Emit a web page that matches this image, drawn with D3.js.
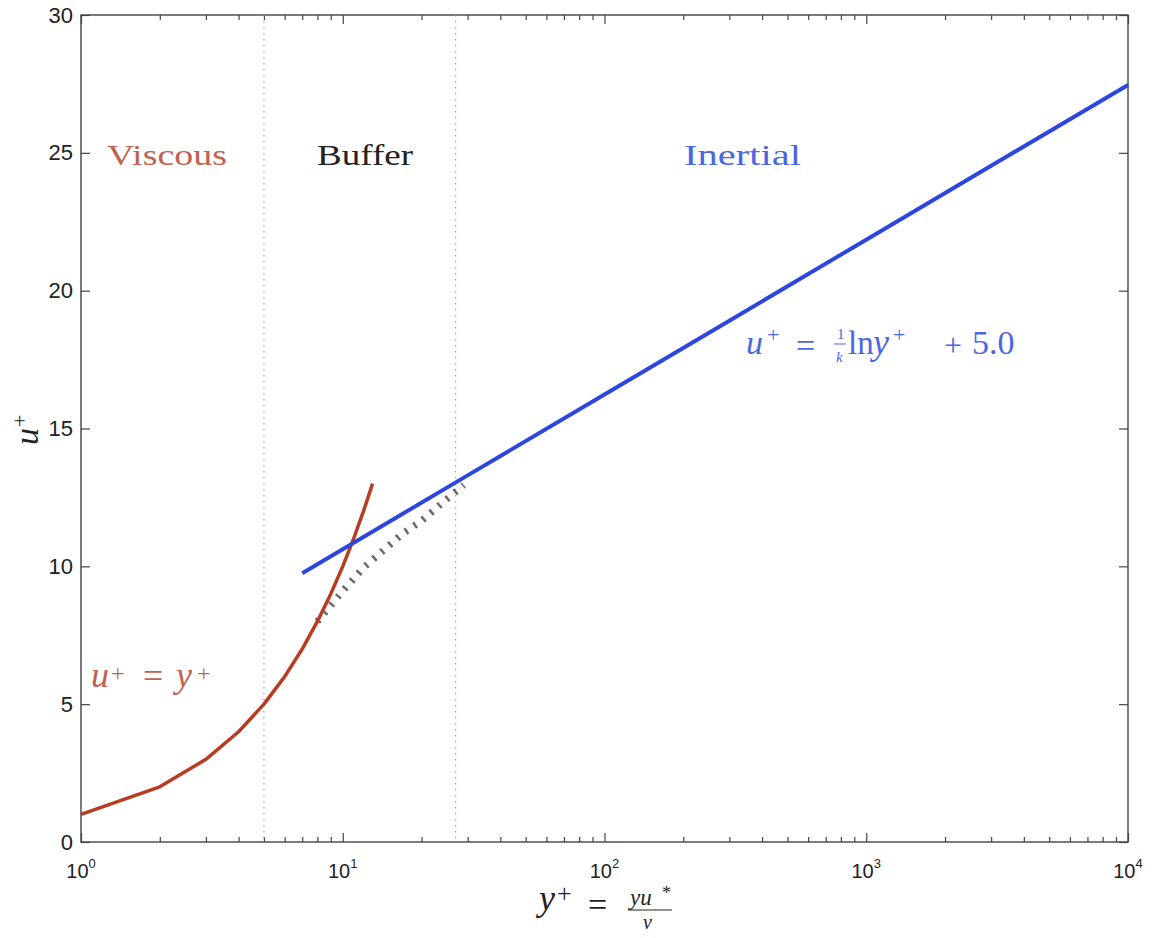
<!DOCTYPE html>
<html>
<head>
<meta charset="utf-8">
<script src="https://cdn.jsdelivr.net/npm/d3@7"></script>
<style>
  body { margin: 0; background: #fff; }
  svg text { font-family: "Liberation Serif", "DejaVu Serif", serif; }
  .tick text { font-family: "Liberation Sans", Arial, sans-serif; }
</style>
</head>
<body>
<svg id="chart" width="1153" height="938"></svg>
<script>
// viscous sublayer  u+ = y+
const viscousY = [1, 2, 3, 4, 5, 6, 7, 8, 9, 10, 11, 12, 13];
const viscousU = [1, 2, 3, 4, 5, 6, 7, 8, 9, 10, 11, 12, 13];

// log law  u+ = (1/k) ln y+ + 5.0, k = 0.41
const inertialY = [7, 10, 30, 100, 300, 1000, 3000, 10000];
const inertialU = [9.75, 10.62, 13.30, 16.23, 18.91, 21.85, 24.53, 27.46];

// buffer layer (hatched blend)
const bufferY = [8, 10, 12, 14, 17, 20, 24, 29];
const bufferU = [8.0, 9.1, 9.95, 10.5, 11.2, 11.65, 12.3, 12.95];

// region boundaries
const boundaries = [5, 27];

const yTicks = [0, 5, 10, 15, 20, 25, 30];
const xMajor = [1, 10, 100, 1000, 10000];
const xExp = ['0', '1', '2', '3', '4'];

const margin = {left: 81, top: 15, right: 25, bottom: 96};
const W = 1153, H = 938;
const iw = W - margin.left - margin.right;
const ih = H - margin.top - margin.bottom;

const svg = d3.select('#chart');
const g = svg.append('g').attr('transform', `translate(${margin.left},${margin.top})`);

const x = d3.scaleLog().domain([1, 10000]).range([0, iw]);
const y = d3.scaleLinear().domain([0, 30]).range([ih, 0]);

const xMinor = [];
xMajor.slice(0, -1).forEach((d) => {
    for (let k = 2; k <= 9; k++) xMinor.push(d * k);
});

// frame
g.append('rect')
    .attr('width', iw).attr('height', ih)
    .attr('fill', 'none').attr('stroke', '#444').attr('stroke-width', 1.4);

function styleAxis(sel) {
    sel.select('.domain').remove();
    sel.selectAll('.tick line').attr('stroke', '#444').attr('stroke-width', 1.2);
}

// bottom / top ticks
g.append('g').attr('transform', `translate(0,${ih})`)
    .call(d3.axisBottom(x).tickValues(xMinor).tickSize(-5).tickFormat(''))
    .call(styleAxis);
g.append('g').attr('transform', `translate(0,${ih})`)
    .call(d3.axisBottom(x).tickValues(xMajor).tickSize(-9).tickFormat(''))
    .call(styleAxis);
g.append('g')
    .call(d3.axisTop(x).tickValues(xMinor).tickSize(-5).tickFormat(''))
    .call(styleAxis);
g.append('g')
    .call(d3.axisTop(x).tickValues(xMajor).tickSize(-9).tickFormat(''))
    .call(styleAxis);

// x tick labels 10^n
const xl = g.append('g');
xMajor.forEach((d, i) => {
    const t = xl.append('text')
        .attr('x', x(d)).attr('y', ih + 36)
        .attr('text-anchor', 'middle')
        .style('font-family', '"Liberation Sans", Arial, sans-serif')
        .style('font-size', '20px').attr('fill', '#222');
    t.append('tspan').text('10');
    t.append('tspan').attr('dy', -10).style('font-size', '13px').text(xExp[i]);
});

// left / right ticks
g.append('g')
    .call(d3.axisLeft(y).tickValues(yTicks).tickSize(-9).tickPadding(8))
    .call(styleAxis)
    .call((s) => s.selectAll('.tick text')
        .style('font-size', '22px').attr('fill', '#222'));
g.append('g').attr('transform', `translate(${iw},0)`)
    .call(d3.axisRight(y).tickValues(yTicks).tickSize(-9).tickFormat(''))
    .call(styleAxis);

// region boundaries
g.selectAll('.bound')
    .data(boundaries)
    .enter()
    .append('line')
    .attr('x1', (d) => x(d)).attr('x2', (d) => x(d))
    .attr('y1', 0).attr('y2', ih)
    .attr('stroke', '#999').attr('stroke-width', 1.1)
    .attr('stroke-dasharray', '1.5,4.5');

const line = d3.line().x((d) => x(d[0])).y((d) => y(d[1]));

// buffer hatch
g.append('path')
    .datum(d3.zip(bufferY, bufferU))
    .attr('d', line)
    .attr('fill', 'none')
    .attr('stroke', '#6a6a6a')
    .attr('stroke-width', 7)
    .attr('stroke-dasharray', '2.5,8');

g.append('path')
    .datum(d3.zip(viscousY, viscousU))
    .attr('d', line)
    .attr('fill', 'none')
    .attr('stroke', '#b83c22')
    .attr('stroke-width', 3.5)
    .attr('stroke-linejoin', 'round');

g.append('path')
    .datum(d3.zip(inertialY, inertialU))
    .attr('d', line)
    .attr('fill', 'none')
    .attr('stroke', '#2b47e0')
    .attr('stroke-width', 4);

// region names
const names = [
    {t: 'Viscous', x: 107, w: 120, c: '#c3604e'},
    {t: 'Buffer', x: 317, w: 96, c: '#222'},
    {t: 'Inertial', x: 684, w: 117, c: '#4a67e2'},
];
names.forEach((n) => {
    svg.append('text')
        .attr('x', n.x).attr('y', 165)
        .attr('textLength', n.w).attr('lengthAdjust', 'spacingAndGlyphs')
        .style('font-size', '30px').attr('fill', n.c)
        .text(n.t);
});

// equation helpers
function addText(parent, txt, xx, yy, size, italic, color) {
    return parent.append('text')
        .attr('x', xx).attr('y', yy)
        .style('font-size', size + 'px')
        .style('font-style', italic ? 'italic' : 'normal')
        .attr('fill', color)
        .text(txt);
}

// u+ = y+
const red = '#c3604e';
addText(svg, 'u', 91, 687, 36, true, red);
addText(svg, '+', 111, 681, 24, false, red);
addText(svg, '=', 143, 688, 36, false, red);
addText(svg, 'y', 176, 687, 36, true, red);
addText(svg, '+', 197, 681, 24, false, red);

// u+ = 1/k ln y+ + 5.0
const blue = '#4a67e2';
addText(svg, 'u', 746, 354, 34, true, blue);
addText(svg, '+', 767, 342, 22, false, blue);
addText(svg, '=', 796, 357, 34, false, blue);
addText(svg, '1', 837, 339, 15, false, blue);
svg.append('line').attr('x1', 834).attr('x2', 846).attr('y1', 344).attr('y2', 344)
    .attr('stroke', blue).attr('stroke-width', 1);
addText(svg, 'k', 836, 362, 15, true, blue);
addText(svg, 'ln', 848, 354, 33, false, blue);
addText(svg, 'y', 873, 354, 36, true, blue);
addText(svg, '+', 893, 342, 22, false, blue);
addText(svg, '+', 944, 356, 32, false, blue);
addText(svg, '5.0', 972, 354, 34, false, blue);

// axis labels
const yl = svg.append('g').attr('transform', 'translate(38,445) rotate(-90)');
addText(yl, 'u', 0, 0, 34, true, '#222');
addText(yl, '+', 18, -11, 22, false, '#222');

addText(svg, 'y', 539, 910, 36, true, '#222');
addText(svg, '+', 557, 902, 26, false, '#222');
addText(svg, '=', 588, 916, 34, false, '#222');
addText(svg, 'yu', 630, 905, 23, true, '#222');
addText(svg, '*', 662, 899, 18, false, '#222');
svg.append('line').attr('x1', 628).attr('x2', 672).attr('y1', 910).attr('y2', 910)
    .attr('stroke', '#222').attr('stroke-width', 1);
addText(svg, 'ν', 643, 929, 20, true, '#222');
</script>
</body>
</html>
